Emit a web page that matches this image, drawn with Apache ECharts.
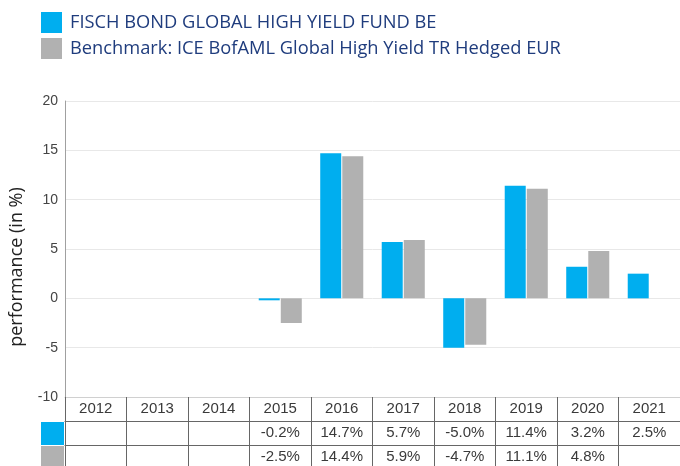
<!DOCTYPE html>
<html>
<head>
<meta charset="utf-8">
<script src="https://cdn.jsdelivr.net/npm/echarts@6/dist/echarts.min.js"></script>
<style>
html,body{margin:0;padding:0;background:#fff;}
#chart{width:680px;height:466px;}
</style>
</head>
<body>
<div id="chart"></div>
<script>
var years = ['2012','2013','2014','2015','2016','2017','2018','2019','2020','2021'];
var fundValues = [null, null, null, -0.2, 14.7, 5.7, -5.0, 11.4, 3.2, 2.5];
var benchValues = [null, null, null, -2.5, 14.4, 5.9, -4.7, 11.1, 4.8, null];
var fundName = 'FISCH BOND GLOBAL HIGH YIELD FUND BE';
var benchName = 'Benchmark: ICE BofAML Global High Yield TR Hedged EUR';
var yTicks = [-10, -5, 0, 5, 10, 15, 20];

var BLUE = '#00AEEF', GRAY = '#B1B1B1';
function fmt(v){ return v == null ? '' : v.toFixed(1) + '%'; }
var tableFont = {fontFamily: 'Liberation Sans, Arial, sans-serif', fontSize: 15, color: '#3a3a3a'};

var chart = echarts.init(document.getElementById('chart'), null, {renderer: 'canvas'});
var baseX = {
  type: 'category', gridIndex: 0, data: years, position: 'bottom',
  splitLine: {show: false}
};
chart.setOption({
  animation: false,
  backgroundColor: '#fff',
  legend: {
    orient: 'vertical', left: 41, top: 12, padding: 0,
    itemWidth: 21, itemHeight: 21, itemGap: 5, icon: 'rect',
    textStyle: {fontFamily: 'Open Sans', fontSize: 18.3, color: '#1F3C7D', padding: [0,0,0,3]},
    data: [fundName, benchName]
  },
  grid: {left: 64.5, right: -5, top: 101, bottom: 69, containLabel: false},
  yAxis: {
    type: 'value', min: yTicks[0], max: yTicks[yTicks.length-1], interval: 5,
    axisLine: {show: true, lineStyle: {color: '#a0a0a0'}},
    axisTick: {show: false},
    axisLabel: {margin: 7, fontFamily: 'Liberation Sans, Arial, sans-serif', fontSize: 14, color: '#444'},
    splitLine: {lineStyle: {color: '#e8e8e8'}},
    name: 'performance (in %)', nameLocation: 'middle', nameGap: 39, nameRotate: 90,
    nameTextStyle: {fontFamily: 'Open Sans', fontSize: 18, color: '#222', padding: [0, 36, 0, 0]}
  },
  xAxis: [
    Object.assign({}, baseX, {
      offset: 0,
      axisLine: {show: true, onZero: false, lineStyle: {color: '#d0d0d0'}},
      axisTick: {show: true, inside: false, interval: 0, length: 80, lineStyle: {color: '#666'}},
      axisLabel: Object.assign({interval: 0, margin: 12, verticalAlign: 'middle'}, tableFont)
    }),
    Object.assign({}, baseX, {
      offset: 24,
      axisLine: {show: true, onZero: false, lineStyle: {color: '#666'}},
      axisTick: {show: false},
      axisLabel: Object.assign({interval: 0, margin: 12, verticalAlign: 'middle',
        formatter: function(v, i){ return fmt(fundValues[i]); }}, tableFont)
    }),
    Object.assign({}, baseX, {
      offset: 48,
      axisLine: {show: true, onZero: false, lineStyle: {color: '#666'}},
      axisTick: {show: false},
      axisLabel: Object.assign({interval: 0, margin: 12, verticalAlign: 'middle',
        formatter: function(v, i){ return fmt(benchValues[i]); }}, tableFont)
    })
  ],
  series: [
    {name: fundName, type: 'bar', xAxisIndex: 0, data: fundValues, barWidth: 21, barGap: '5%',
     itemStyle: {color: BLUE}},
    {name: benchName, type: 'bar', xAxisIndex: 0, data: benchValues, barWidth: 21, barGap: '5%',
     itemStyle: {color: GRAY}}
  ],
  graphic: [
    {type: 'rect', left: 41, top: 422, shape: {width: 23, height: 23}, style: {fill: BLUE}},
    {type: 'rect', left: 41, top: 446, shape: {width: 23, height: 24}, style: {fill: GRAY}}
  ]
});
</script>
</body>
</html>
